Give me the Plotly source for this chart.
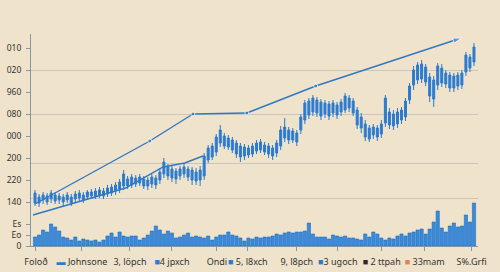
import plotly.graph_objects as go

# ---- data ----
idx = list(range(110))
open_ = [43,49,46,50,47,51,46,49,46,49,47,48,51,49,50,50,51,55,52,53,
         55,57,60,67,61,68,63,67,66,62,68,66,72,79,77,75,70,72,77,76,
         74,66,70,86,89,94,103,110,108,106,103,100,90,98,92,95,96,101,100,98,
         93,100,108,116,115,113,116,126,131,134,146,144,132,142,133,141,134,136,148,145,
         136,129,122,118,111,118,112,123,134,132,122,126,129,146,161,166,167,179,169,166,
         161,178,173,171,158,160,161,174,189,184]
high = [56,52,54,53,56,54,53,52,54,52,55,56,54,56,57,58,59,58,61,62,
        64,67,76,70,72,71,72,70,69,72,71,78,88,82,80,78,80,82,80,79,
        78,80,93,101,103,112,121,113,111,109,106,103,102,101,103,106,107,104,103,101,
        106,120,128,119,118,116,132,146,148,151,149,147,146,145,146,144,147,153,151,148,
        139,133,126,121,122,121,126,151,138,136,138,139,148,163,180,184,186,182,173,170,
        183,182,176,174,173,174,176,194,192,203]
low = [40,39,42,41,43,42,42,40,43,40,44,45,43,46,47,47,48,47,49,50,
       51,53,56,57,58,59,60,57,56,58,57,62,68,66,64,62,66,68,65,61,
       61,60,66,83,86,90,99,97,96,93,88,84,86,88,89,92,93,91,88,86,
       89,96,104,102,103,100,112,122,127,130,129,126,128,126,129,127,130,133,134,130,
       117,113,105,104,107,105,108,119,117,116,118,122,125,142,156,162,163,160,144,139,
       156,159,158,154,154,156,157,170,174,180]
close = [53,43,51,44,53,45,50,44,51,43,52,53,46,54,54,55,56,50,58,59,
         61,64,72,60,69,62,69,60,60,69,61,74,84,70,68,67,77,79,69,66,
         65,76,90,98,100,109,116,100,99,96,92,89,99,91,100,103,104,94,92,90,
         103,116,119,106,106,104,129,143,145,148,133,130,143,130,143,131,144,150,138,133,
         121,118,109,107,119,109,122,148,121,120,134,136,145,160,176,181,182,164,150,147,
         180,163,162,158,170,171,173,191,178,199]
volume = [9,11,16,14,22,19,15,9,8,6,9,5,7,6,5,6,4,6,10,13,
          9,14,10,9,10,10,6,8,11,15,20,16,12,15,13,8,9,11,13,9,
          10,9,8,10,6,9,11,11,14,11,10,8,5,8,7,9,8,9,9,10,
          12,11,13,14,13,14,14,15,23,12,9,9,9,7,11,10,9,10,8,8,
          7,6,12,9,14,12,8,6,8,7,10,12,10,13,14,16,17,12,17,24,
          35,18,14,20,23,19,20,31,24,43]

trend_up_x = [0, 28.5, 39.2, 52.6, 69.7, 105.9]
trend_up_y = [42, 105, 132, 133, 160, 208]
trend_lo_x = [-0.5, 22.5, 31.8, 37.2, 41.7]
trend_lo_y = [31, 58, 79, 83, 90]

y_tickvals = [198, 176, 154, 132, 110, 88, 66, 44, 22, 11, 0]
y_ticktext = ["010", "020", "960", "080", "000", "200", "220", "140", "Es", "Eo", "0"]
grid_vals = [176, 132, 83, 48]

BLUE = "#2b7bd0"
x_tickvals = [0.24, 11.65, 23.57, 33.99, 45.15, 52.85, 65.0, 75.18, 86.1, 96.77, 108.4]
x_ticktext = [
    "Foloð",
    f'<span style="color:{BLUE}">▬</span> Johnsone',
    "3, löpch",
    f'<span style="color:{BLUE}">■</span>4 jpxch',
    "Ondi",
    f'<span style="color:{BLUE}">■</span> 5, l8xch',
    "9, l8pch",
    f'<span style="color:{BLUE}">■</span>3 ugoch',
    '<span style="color:#2b2b2b">■</span> 2 ttpah',
    '<span style="color:#ee7a5c">■</span> 33mam',
    "S%.Grfi",
]

BG = "#f0e3cb"

fig = go.Figure()
fig.add_trace(go.Bar(
    x=idx, y=volume, marker=dict(color="#3a8bdc", line=dict(color="#1f6cc0", width=0.6)),
    showlegend=False, hoverinfo="skip"))
fig.add_trace(go.Candlestick(
    x=idx, open=open_, high=high, low=low, close=close,
    increasing=dict(line=dict(color=BLUE, width=1), fillcolor=BLUE),
    decreasing=dict(line=dict(color=BLUE, width=1), fillcolor=BLUE),
    whiskerwidth=0, showlegend=False))
fig.add_trace(go.Scatter(
    x=trend_lo_x, y=trend_lo_y, mode="lines",
    line=dict(color="#2f78c4", width=1.4), showlegend=False))
fig.add_trace(go.Scatter(
    x=trend_up_x, y=trend_up_y, mode="lines+markers",
    line=dict(color="#2f78c4", width=1.4),
    marker=dict(symbol=["circle", "circle", "circle", "circle", "circle", "arrow"],
                size=[0, 4, 4, 4, 4, 9], color="#2f78c4", angleref="previous"),
    showlegend=False, cliponaxis=False))

axis_col = "#8797a6"
fig.update_layout(
    width=500, height=272,
    margin=dict(l=31, r=22, t=34, b=26, autoexpand=False),
    paper_bgcolor=BG, plot_bgcolor=BG,
    font=dict(family="Noto Sans", size=9, color="#333333"),
    bargap=0.2,
    xaxis=dict(range=[-1, 110], rangeslider=dict(visible=False),
               tickmode="array", tickvals=x_tickvals, ticktext=x_ticktext,
               tickangle=0, ticklabelstandoff=3, automargin=False,
               showgrid=False, zeroline=False, showline=True, linecolor=axis_col,
               ticks="outside", ticklen=4, tickcolor=axis_col,
               tickfont=dict(size=9, color="#333333")),
    yaxis=dict(range=[0, 212], tickmode="array", tickvals=y_tickvals, ticktext=y_ticktext,
               ticklabelstandoff=3, automargin=False,
               showgrid=False, zeroline=False, showline=True, linecolor=axis_col,
               ticks="outside", ticklen=4, tickcolor=axis_col,
               tickfont=dict(size=8.5, color="#333333"),
               minor=dict(tickmode="array", tickvals=grid_vals, showgrid=True,
                          gridcolor="#c9c6bd", gridwidth=1, ticks="")),
)
fig.write_html("out.html")
